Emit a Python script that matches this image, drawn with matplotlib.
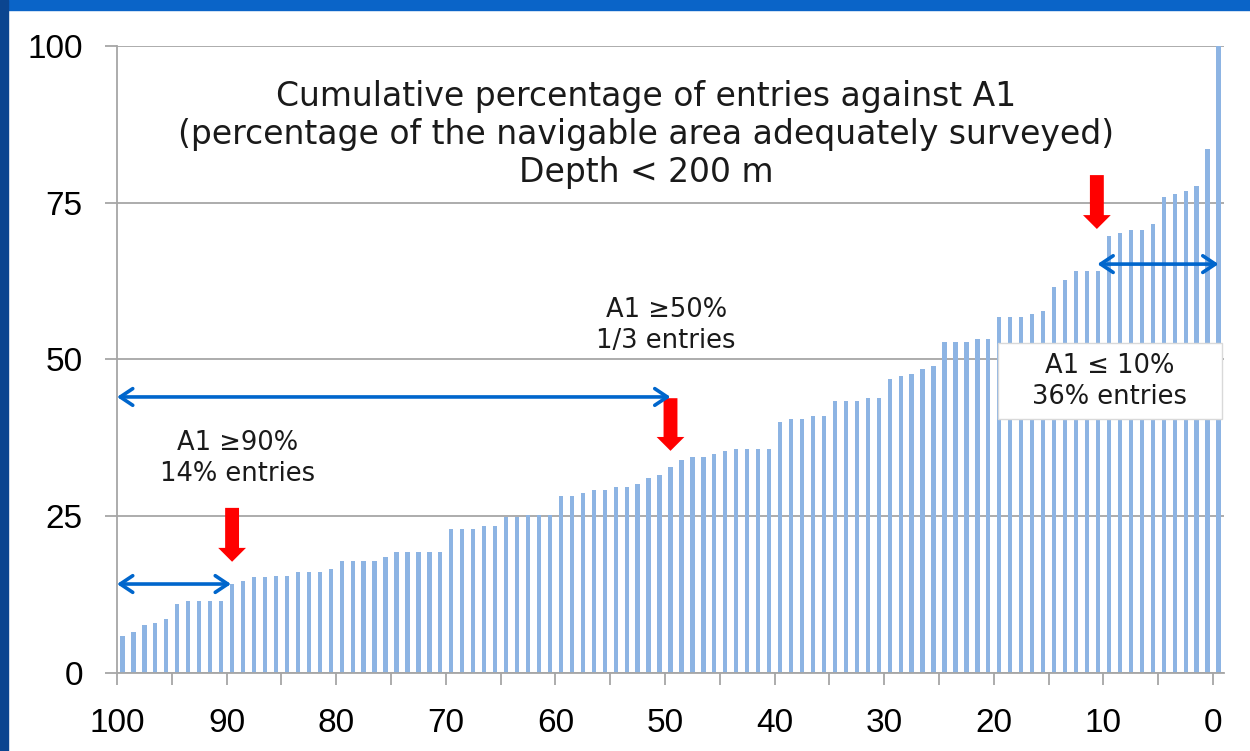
import numpy as np
import matplotlib.pyplot as plt
from matplotlib.patches import FancyArrowPatch, Rectangle

# A1 categories, 100 down to 0, and the cumulative % of entries for each
a1_pct = np.arange(100, -1, -1)
cum_entries = [
    5.8, 6.5, 7.6, 8.0, 8.6, 10.9, 11.4, 11.4, 11.4, 11.4,
    14.2, 14.7, 15.2, 15.2, 15.5, 15.5, 16.0, 16.0, 16.0, 16.5,
    17.9, 17.9, 17.9, 17.9, 18.4, 19.3, 19.3, 19.3, 19.3, 19.3,
    22.9, 22.9, 22.9, 23.4, 23.4, 24.8, 24.8, 25.2, 25.2, 25.2,
    28.2, 28.2, 28.6, 29.1, 29.1, 29.6, 29.6, 30.1, 31.1, 31.6,
    32.9, 33.9, 34.4, 34.4, 34.9, 35.3, 35.7, 35.7, 35.7, 35.7,
    40.0, 40.5, 40.5, 41.0, 41.0, 43.4, 43.4, 43.4, 43.9, 43.9,
    46.8, 47.3, 47.7, 48.5, 49.0, 52.8, 52.8, 52.8, 53.3, 53.3,
    56.7, 56.7, 56.7, 57.2, 57.7, 61.5, 62.7, 64.1, 64.1, 64.1,
    69.7, 70.2, 70.7, 70.7, 71.6, 75.9, 76.4, 76.8, 77.7, 83.5,
    100.0,
]
xtick_major = list(range(100, -1, -10))
xtick_minor = list(range(95, 0, -10))
yticks = [0, 25, 50, 75, 100]

bar_col = '#8db4e3'
grid_col = '#a6a6a6'
red = '#ff0000'
blue = '#0066cc'

fig = plt.figure(figsize=(12.5, 7.51), dpi=100)
fig.patch.set_facecolor('white')
# slide frame
fig.add_artist(Rectangle((0, 1 - 10 / 751), 1, 10 / 751, transform=fig.transFigure,
                         color='#0a64c8', zorder=0))
fig.add_artist(Rectangle((0, 0), 8 / 1250, 1, transform=fig.transFigure,
                         color='#0b4590', zorder=0))

ax = fig.add_axes([117 / 1250, (751 - 672.7) / 751, (1224 - 117) / 1250, (672.7 - 46) / 751])
ax.bar(a1_pct - 0.5, cum_entries, width=0.39, color=bar_col, zorder=2)

ax.set_xlim(100, -1.0)
ax.set_ylim(0, 100)
ax.set_yticks(yticks)
ax.set_xticks(xtick_major)
ax.set_xticks(xtick_minor, minor=True)
ax.set_xticklabels([str(v) for v in xtick_major])
ax.yaxis.grid(True, color=grid_col, lw=1.3, zorder=0)
for s in ['top', 'right']:
    ax.spines[s].set_visible(False)
for s in ['left', 'bottom']:
    ax.spines[s].set_color(grid_col)
    ax.spines[s].set_linewidth(1.3)
ax.tick_params(axis='both', which='both', color=grid_col, width=1.3, length=8.6,
               direction='out', labelsize=24)
ax.tick_params(axis='y', pad=16)
ax.tick_params(axis='x', pad=17)
for lab in ax.get_xticklabels() + ax.get_yticklabels():
    lab.set_fontfamily('Liberation Sans')

ax.text(51.7, 85.9, 'Cumulative percentage of entries against A1\n'
        '(percentage of the navigable area adequately surveyed)\nDepth < 200 m',
        ha='center', va='center', fontsize=23.8, color='#1a1a1a', linespacing=1.2,
        family='DejaVu Sans', zorder=5)

ax.text(49.9, 55.4, 'A1 ≥50%\n1/3 entries', ha='center', va='center', fontsize=18.5,
        color='#1a1a1a', linespacing=1.25, zorder=5)
ax.text(89.0, 34.2, 'A1 ≥90%\n14% entries', ha='center', va='center', fontsize=18.5,
        color='#1a1a1a', linespacing=1.25, zorder=5)
ax.add_patch(Rectangle((19.6, 40.5), -20.4, 12.1, facecolor='white', edgecolor='#d9d9d9',
                       lw=1, zorder=4))
ax.text(9.45, 46.5, 'A1 ≤ 10%\n36% entries', ha='center', va='center', fontsize=18.5,
        color='#1a1a1a', linespacing=1.25, zorder=5)

# red markers pointing at the thresholds
for xa, y0, y1 in [(89.5, 26.3, 17.7), (49.5, 43.8, 35.4), (10.6, 79.4, 70.8)]:
    ax.add_patch(FancyArrowPatch((xa, y0), (xa, y1), arrowstyle='simple,head_length=0.5,head_width=1.0,tail_width=0.5',
                                 mutation_scale=20, color=red, lw=0, shrinkA=0, shrinkB=0, zorder=6))

# blue span arrows
for xa, xb, yy in [(100, 89.6, 14.15), (100, 49.5, 44.0), (10.55, -0.5, 65.2)]:
    ax.add_patch(FancyArrowPatch((xa, yy), (xb, yy), arrowstyle='<->,head_length=0.45,head_width=0.3',
                                 mutation_scale=20, color=blue, lw=2.6, shrinkA=0, shrinkB=0, zorder=6))

fig.savefig('out.png', dpi=100)
